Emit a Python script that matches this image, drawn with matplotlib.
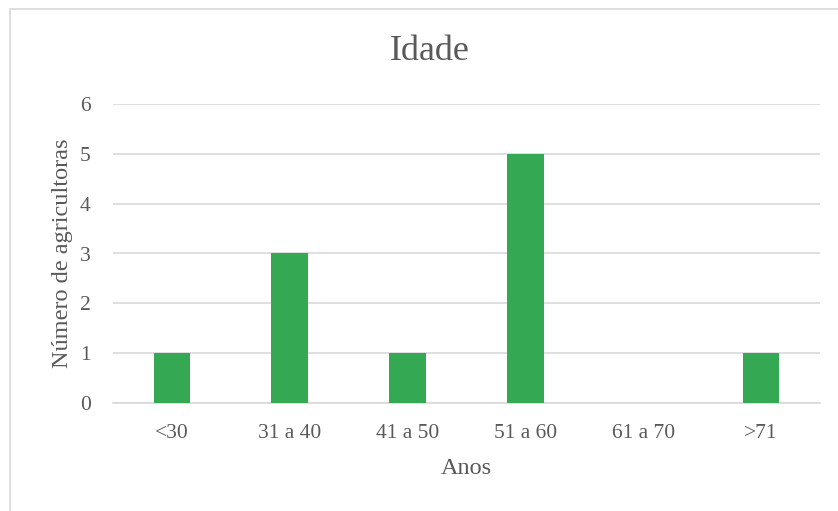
import matplotlib.pyplot as plt
from matplotlib.patches import Rectangle

plt.rcParams['font.family'] = ['Liberation Serif', 'DejaVu Serif']

# dados
faixas = ["<30", "31 a 40", "41 a 50", "51 a 60", "61 a 70", ">71"]
agricultoras = [1, 3, 1, 5, 0, 1]
y_ticks = [0, 1, 2, 3, 4, 5, 6]

COR_BARRA = '#34A853'
COR_TEXTO = '#595959'
COR_GRADE = '#D9D9D9'

fig = plt.figure(figsize=(8.38, 5.11), dpi=100)
ax = fig.add_axes([113 / 838, 1 - 403 / 511, (820 - 113) / 838, (403 - 104) / 511])

# moldura do gráfico (só topo e esquerda aparecem no recorte)
fig.patches.append(Rectangle((9.5 / 838, -0.1), 1.2, 1.1 - 9.5 / 511, transform=fig.transFigure,
                             fill=False, edgecolor='#D9D9D9', linewidth=1.2, zorder=0))

x = range(len(faixas))
ax.bar(x, agricultoras, width=0.31, color=COR_BARRA, zorder=3)

ax.set_xlim(-0.5, len(faixas) - 0.5)
ax.set_ylim(0, 6)
ax.set_yticks(y_ticks)
ax.set_xticks(list(x))
ax.set_xticklabels(faixas)
ax.grid(axis='y', color=COR_GRADE, linewidth=1.2, zorder=0)
ax.set_axisbelow(True)

for lado in ['top', 'right', 'left']:
    ax.spines[lado].set_visible(False)
ax.spines['bottom'].set_color(COR_GRADE)
ax.spines['bottom'].set_linewidth(1.2)

ax.tick_params(axis='both', length=0, labelsize=15.5, labelcolor=COR_TEXTO)
ax.tick_params(axis='x', pad=15)
ax.tick_params(axis='y', pad=16)

# título centrado na área do gráfico, não nos eixos
fig.text(430 / 838, 1 - 52 / 511, "Idade", fontsize=26, color=COR_TEXTO, ha='center', va='center')
ax.set_xlabel("Anos", fontsize=17.5, color=COR_TEXTO, labelpad=11)
ax.set_ylabel("Número de agricultoras", fontsize=17.5, color=COR_TEXTO, labelpad=5)

fig.savefig("out.png", dpi=100)
